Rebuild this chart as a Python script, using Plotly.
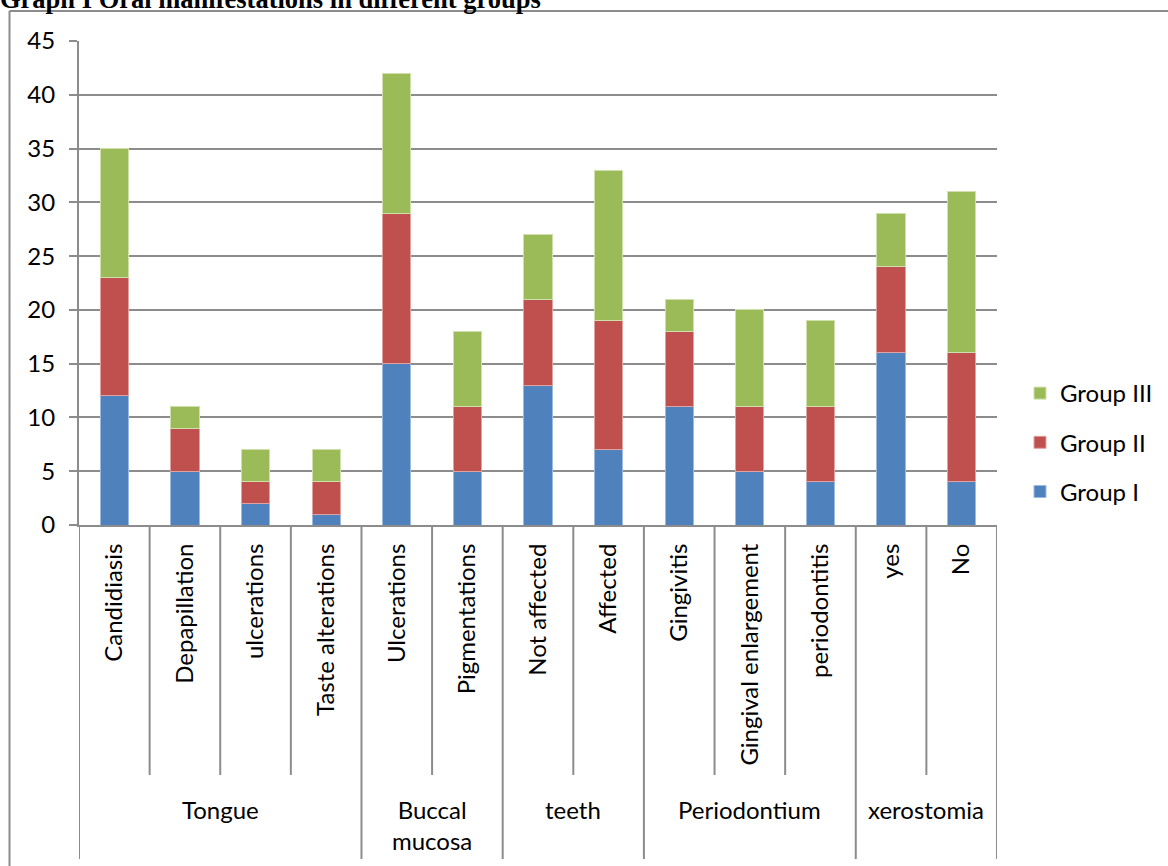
import plotly.graph_objects as go

# Oral manifestations by site, stacked by patient group
sites = ["Tongue", "Buccal<br>mucosa", "teeth", "Periodontium", "xerostomia"]
site_sizes = [4, 2, 2, 3, 2]
conditions = ["Candidiasis", "Depapillation", "ulcerations", "Taste alterations",
              "Ulcerations", "Pigmentations", "Not affected", "Affected",
              "Gingivitis", "Gingival enlargement", "periodontitis", "yes", "No"]
group_i = [12, 5, 2, 1, 15, 5, 13, 7, 11, 5, 4, 16, 4]
group_ii = [11, 4, 2, 3, 14, 6, 8, 12, 7, 6, 7, 8, 12]
group_iii = [12, 2, 3, 3, 13, 7, 6, 14, 3, 9, 8, 5, 15]
y_ticks = [0, 5, 10, 15, 20, 25, 30, 35, 40, 45]

W, H = 1168, 866
L, R, T, B = 79, 171, 41, 341
PW, PH = W - L - R, H - T - B
GRAY = "#8c8c8c"
FONT = "Lato"


def fx(px):
    return (px - L) / PW


def fy(py):
    return (H - B - py) / PH


series = [("Group I", group_i, "#4F81BD", "#9dbbe0", 3),
          ("Group II", group_ii, "#C0504D", "#e0a3a1", 2),
          ("Group III", group_iii, "#9BBB59", "#cfe0ac", 1)]

fig = go.Figure()
for name, vals, col, edge, rank in series:
    fig.add_trace(go.Bar(
        x=conditions, y=vals, name=name, legendgroup=name, legendrank=rank,
        marker=dict(color=col, line=dict(color=edge, width=1)),
    ))

shapes = []
# dividers between categories; site boundaries run further down
bounds = [0]
for s in site_sizes:
    bounds.append(bounds[-1] + s)
for i in range(len(conditions) + 1):
    long_line = i in bounds
    shapes.append(dict(type="line", xref="x", yref="paper",
                       x0=i - 0.5, x1=i - 0.5, y0=0,
                       y1=fy(859) if long_line else fy(775),
                       line=dict(color=GRAY, width=2)))
# outer frame (left and top edges)
shapes.append(dict(type="line", xref="paper", yref="paper",
                   x0=fx(9.5), x1=fx(9.5), y0=fy(11), y1=fy(870),
                   line=dict(color=GRAY, width=2)))
shapes.append(dict(type="line", xref="paper", yref="paper",
                   x0=fx(9.5), x1=fx(1172), y0=fy(11), y1=fy(11),
                   line=dict(color=GRAY, width=2)))

annotations = []
for k, site in enumerate(sites):
    centre = (bounds[k] + bounds[k + 1] - 1) / 2
    annotations.append(dict(x=centre, y=fy(793), xref="x", yref="paper",
                            text=site, showarrow=False, yanchor="top",
                            xanchor="center",
                            font=dict(family=FONT, size=24, color="black")))
annotations.append(dict(x=fx(-2), y=fy(16), xref="paper", yref="paper",
                        text="<b>Graph I Oral manifestations in different groups</b>",
                        showarrow=False, xanchor="left", yanchor="bottom",
                        font=dict(family="Liberation Serif", size=26.5, color="black")))

fig.update_layout(
    width=W, height=H,
    margin=dict(l=L, r=R, t=T, b=B, autoexpand=False),
    barmode="stack", bargap=0.6,
    plot_bgcolor="white", paper_bgcolor="white",
    font=dict(family=FONT, size=24, color="black"),
    showlegend=True,
    legend=dict(x=fx(1020), y=fy(371), xanchor="left", yanchor="top",
                traceorder="grouped", tracegroupgap=15,
                font=dict(family=FONT, size=24, color="black"),
                bgcolor="rgba(0,0,0,0)"),
    xaxis=dict(range=[-0.5, len(conditions) - 0.5], tickangle=-90,
               ticks="", showline=True, linecolor=GRAY, linewidth=2,
               showgrid=False, tickfont=dict(family=FONT, size=24),
               ticklabelstandoff=7, fixedrange=True),
    yaxis=dict(range=[0, 45], tickvals=y_ticks, ticks="outside", ticklen=8,
               tickcolor=GRAY, tickwidth=2, showline=True, linecolor=GRAY,
               linewidth=2, showgrid=True, gridcolor=GRAY, gridwidth=2,
               zeroline=False, tickfont=dict(family=FONT, size=24),
               ticklabelstandoff=9),
    shapes=shapes, annotations=annotations,
)

fig.write_html("out.html")
